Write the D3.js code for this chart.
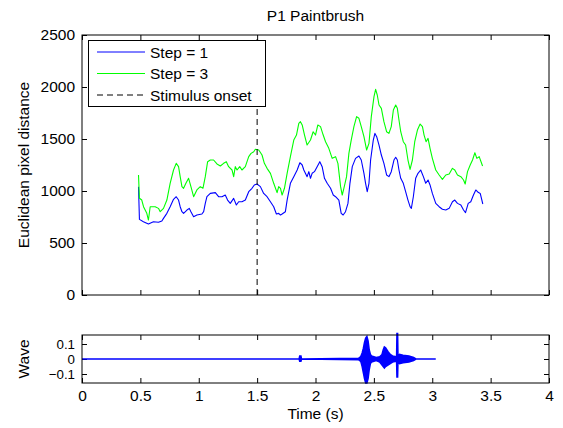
<!DOCTYPE html>
<html><head><meta charset="utf-8">
<script src="https://cdn.jsdelivr.net/npm/d3@7/dist/d3.min.js"></script>
<style>
body{margin:0;background:#fff;}
text{font-family:"Liberation Sans",Arial,Helvetica,sans-serif;fill:#000;}
</style></head>
<body><svg id="chart" width="563" height="428"></svg>
<script>
const title = "P1 Paintbrush";
const seriesNames = ["Step = 1", "Step = 3", "Stimulus onset"];
const stimulusOnset = 1.5;

const step1Time = [0.484,0.492,0.526,0.569,0.612,0.655,0.684,0.698,0.727,0.755,0.784,0.807,0.827,0.841,0.856,0.870,0.899,0.919,0.933,0.956,0.984,1.027,1.042,1.056,1.070,1.099,1.142,1.170,1.199,1.227,1.247,1.270,1.299,1.322,1.342,1.370,1.399,1.428,1.456,1.476,1.499,1.528,1.556,1.585,1.614,1.642,1.665,1.685,1.700,1.714,1.742,1.757,1.785,1.814,1.843,1.866,1.886,1.900,1.928,1.943,1.957,1.971,1.991,2.014,2.037,2.057,2.077,2.100,2.129,2.152,2.172,2.200,2.220,2.237,2.257,2.278,2.295,2.315,2.343,2.372,2.392,2.415,2.429,2.443,2.458,2.472,2.495,2.509,2.524,2.544,2.564,2.586,2.609,2.629,2.649,2.672,2.687,2.701,2.715,2.730,2.752,2.772,2.792,2.810,2.821,2.838,2.858,2.878,2.901,2.924,2.944,2.964,2.981,3.001,3.030,3.059,3.087,3.116,3.145,3.173,3.193,3.216,3.245,3.268,3.285,3.308,3.330,3.353,3.373,3.393,3.411,3.433];
const step1Dist = [1041,727,705,683,705,699,711,737,785,849,920,945,913,849,801,785,817,833,801,753,769,779,801,881,945,977,984,945,945,961,913,881,929,865,897,897,913,993,1026,1058,1067,1042,977,945,897,849,779,785,769,779,801,913,1074,1138,1202,1272,1250,1202,1138,1186,1122,1170,1186,1234,1282,1234,1122,1074,1026,961,945,913,785,769,801,881,1074,1234,1314,1336,1298,1170,1074,993,1074,1298,1490,1554,1522,1442,1346,1266,1154,1138,1186,1298,1324,1298,1202,1122,1074,993,913,849,833,945,1122,1170,1202,1138,1074,1106,1058,977,881,849,824,817,833,897,913,881,865,817,792,881,897,961,1010,987,977,875];

const step3Time = [0.484,0.492,0.512,0.527,0.541,0.555,0.569,0.584,0.598,0.627,0.655,0.670,0.698,0.727,0.755,0.784,0.807,0.827,0.841,0.856,0.870,0.890,0.913,0.933,0.956,0.984,1.013,1.036,1.056,1.076,1.099,1.127,1.156,1.185,1.213,1.236,1.256,1.285,1.299,1.313,1.328,1.351,1.370,1.399,1.428,1.448,1.471,1.485,1.514,1.542,1.562,1.585,1.614,1.642,1.671,1.685,1.700,1.714,1.734,1.757,1.785,1.814,1.837,1.857,1.871,1.886,1.906,1.928,1.957,1.980,2.000,2.020,2.043,2.066,2.086,2.114,2.143,2.172,2.192,2.215,2.229,2.243,2.266,2.286,2.306,2.329,2.352,2.372,2.392,2.415,2.438,2.458,2.478,2.501,2.515,2.529,2.544,2.564,2.586,2.609,2.629,2.649,2.667,2.687,2.701,2.715,2.730,2.752,2.772,2.792,2.810,2.830,2.850,2.873,2.896,2.916,2.930,2.947,2.964,2.981,3.001,3.030,3.059,3.087,3.116,3.145,3.173,3.193,3.216,3.245,3.268,3.282,3.302,3.325,3.345,3.365,3.382,3.402,3.431];
const step3Dist = [1154,930,913,849,817,785,721,849,849,849,833,801,833,913,1074,1202,1266,1234,1138,1042,1026,1074,1122,1042,945,1010,1042,1026,1138,1282,1298,1298,1260,1240,1266,1282,1234,1202,1138,1234,1202,1234,1202,1234,1330,1362,1378,1401,1394,1346,1266,1218,1170,1074,984,1042,1026,961,1026,1170,1330,1490,1538,1651,1667,1635,1538,1442,1490,1570,1538,1635,1619,1538,1474,1410,1314,1330,1266,1042,961,1026,1138,1362,1490,1619,1715,1699,1619,1522,1394,1458,1715,1907,1977,1923,1827,1795,1667,1570,1554,1619,1779,1827,1795,1683,1570,1474,1442,1298,1208,1298,1474,1586,1644,1619,1538,1474,1506,1410,1314,1202,1154,1112,1154,1163,1218,1202,1154,1138,1106,1067,1186,1250,1298,1368,1314,1330,1240];

const waveTime  = [0,1.86,1.865,1.875,1.88,2.37,2.38,2.39,2.40,2.41,2.42,2.43,2.44,2.45,2.46,2.47,2.48,2.50,2.52,2.55,2.57,2.58,2.59,2.60,2.62,2.64,2.66,2.69,2.695,2.698,2.703,2.706,2.71,2.72,2.75,2.80,2.84,2.86,3.03];
const waveUpper = [0,0,0.02,0.02,0,0.005,0.01,0.02,0.04,0.07,0.11,0.14,0.15,0.12,0.06,0.03,0.02,0.015,0.01,0.015,0.03,0.06,0.08,0.075,0.05,0.03,0.02,0.015,0.015,0.17,0.17,0.02,0.02,0.03,0.025,0.02,0.01,0,0];
const waveLower = [0,0,-0.015,-0.015,0,-0.005,-0.01,-0.02,-0.05,-0.09,-0.13,-0.16,-0.16,-0.13,-0.07,-0.03,-0.02,-0.015,-0.01,-0.02,-0.04,-0.05,-0.06,-0.05,-0.04,-0.03,-0.02,-0.015,-0.015,-0.12,-0.12,-0.02,-0.02,-0.03,-0.025,-0.02,-0.01,0,0];

const xTicks = [0,0.5,1,1.5,2,2.5,3,3.5,4];
const xTickLabels = ["0","0.5","1","1.5","2","2.5","3","3.5","4"];
const yTicks = [0,500,1000,1500,2000,2500];
const yTickLabels = ["0","500","1000","1500","2000","2500"];
const waveTicks = [-0.1,0,0.1];
const waveTickLabels = ["\u22120.1","0","0.1"];

const svg = d3.select("#chart");
const L = 82, R = 549;
const topT = 35, topB = 295;
const wT = 335, wB = 383;
const FS = 15.5;
const FSW = 13.3;

const x = d3.scaleLinear().domain([0,4]).range([L,R]);
const y = d3.scaleLinear().domain([0,2500]).range([topB,topT]);
const yw = d3.scaleLinear().domain([-0.16,0.16]).range([wB,wT]);

function styleAxis(g, fs){
  g.selectAll(".domain").remove();
  g.selectAll("line").attr("stroke","#000").attr("stroke-width",1);
  g.selectAll("text").style("font-size",(fs||FS)+"px").style("font-family","'Liberation Sans',Arial,sans-serif").attr("fill","#000");
}

// ---------- top axes ----------
const gTop = svg.append("g");
gTop.append("g").attr("transform",`translate(${L},0)`)
  .call(d3.axisLeft(y).tickValues(yTicks).tickFormat((d,i)=>yTickLabels[i]).tickSize(-5).tickPadding(7)).call(styleAxis);
gTop.append("g").attr("transform",`translate(${R},0)`)
  .call(d3.axisRight(y).tickValues(yTicks).tickFormat("").tickSize(-5)).call(styleAxis);
gTop.append("g").attr("transform",`translate(0,${topT})`)
  .call(d3.axisTop(x).tickValues(xTicks).tickFormat("").tickSize(-5)).call(styleAxis);
gTop.append("g").attr("transform",`translate(0,${topB})`)
  .call(d3.axisBottom(x).tickValues(xTicks).tickFormat("").tickSize(-5)).call(styleAxis);

const line = d3.line().x(d=>x(d[0])).y(d=>y(d[1]));
gTop.append("path").datum(step1Time.map((t,i)=>[t,step1Dist[i]]))
  .attr("d",line).attr("fill","none").attr("stroke","#0000ff").attr("stroke-width",1.1).attr("stroke-linejoin","round");
gTop.append("path").datum(step3Time.map((t,i)=>[t,step3Dist[i]]))
  .attr("d",line).attr("fill","none").attr("stroke","#00ff00").attr("stroke-width",1.1).attr("stroke-linejoin","round");
gTop.append("line").attr("x1",x(stimulusOnset)).attr("x2",x(stimulusOnset))
  .attr("y1",y(0)).attr("y2",y(2500)).attr("stroke","#000").attr("stroke-width",1).attr("stroke-dasharray","6,4");

gTop.append("rect").attr("x",L).attr("y",topT).attr("width",R-L).attr("height",topB-topT)
  .attr("fill","none").attr("stroke","#000").attr("stroke-width",1);

// legend
const lg = gTop.append("g");
lg.append("rect").attr("x",88.5).attr("y",40.5).attr("width",177).attr("height",66)
  .attr("fill","#fff").attr("stroke","#000").attr("stroke-width",1);
const legColors = ["#0000ff","#00ff00","#000"];
const legDash = [null,null,"6,4"];
seriesNames.forEach((n,i)=>{
  const yy = 52 + i*21.5;
  lg.append("line").attr("x1",97).attr("x2",145).attr("y1",yy).attr("y2",yy)
    .attr("stroke",legColors[i]).attr("stroke-width",1).attr("stroke-dasharray",legDash[i]);
  lg.append("text").attr("x",150).attr("y",yy).attr("dy","0.36em").style("font-size",FS+"px").text(n);
});

svg.append("text").attr("x",(L+R)/2).attr("y",21).attr("text-anchor","middle").style("font-size",FS+"px").text(title);
svg.append("text").attr("transform",`translate(29,${(topT+topB)/2}) rotate(-90)`).attr("text-anchor","middle").style("font-size",FS+"px").text("Euclidean pixel distance");

// ---------- wave axes ----------
const gW = svg.append("g");
gW.append("g").attr("transform",`translate(${L},0)`)
  .call(d3.axisLeft(yw).tickValues(waveTicks).tickFormat((d,i)=>waveTickLabels[i]).tickSize(-5).tickPadding(7)).call(g=>styleAxis(g,FSW));
gW.append("g").attr("transform",`translate(${R},0)`)
  .call(d3.axisRight(yw).tickValues(waveTicks).tickFormat("").tickSize(-5)).call(styleAxis);
gW.append("g").attr("transform",`translate(0,${wT})`)
  .call(d3.axisTop(x).tickValues(xTicks).tickFormat("").tickSize(-5)).call(styleAxis);
gW.append("g").attr("transform",`translate(0,${wB})`)
  .call(d3.axisBottom(x).tickValues(xTicks).tickFormat((d,i)=>xTickLabels[i]).tickSize(-5).tickPadding(7)).call(styleAxis);

const area = d3.area().x(d=>x(d[0])).y0(d=>yw(d[2])).y1(d=>yw(d[1]));
const waveData = waveTime.map((t,i)=>[t,waveUpper[i],waveLower[i]]);
gW.append("path").datum(waveData).attr("d",area).attr("fill","#0000ff").attr("stroke","#0000ff").attr("stroke-width",1.6);

gW.append("rect").attr("x",L).attr("y",wT).attr("width",R-L).attr("height",wB-wT)
  .attr("fill","none").attr("stroke","#000").attr("stroke-width",1);

svg.append("text").attr("transform",`translate(29,${(wT+wB)/2}) rotate(-90)`).attr("text-anchor","middle").style("font-size",FS+"px").text("Wave");
svg.append("text").attr("x",(L+R)/2).attr("y",419).attr("text-anchor","middle").style("font-size",FS+"px").text("Time (s)");
</script></body></html>
